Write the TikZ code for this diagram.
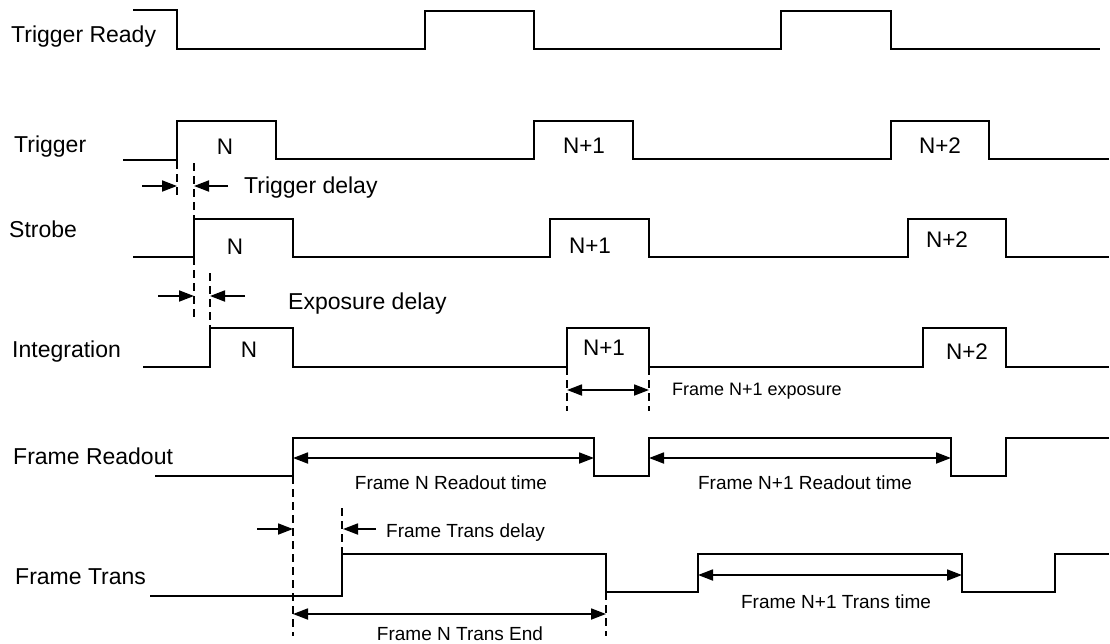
\documentclass[tikz,border=0pt]{standalone}
\usepackage{fontspec}
\setmainfont{Liberation Sans}
\usetikzlibrary{arrows.meta}
\begin{document}
\begin{tikzpicture}[x=1pt,y=-1pt,
  sig/.style={line width=2pt, line join=miter},
  dsh/.style={line width=1.7pt, dash pattern=on 8pt off 5pt},
  meas/.style={line width=1.8pt},
  tip/.style={-{Triangle[length=15pt,width=11pt]}},
  dtip/.style={{Triangle[length=15pt,width=11pt]}-{Triangle[length=15pt,width=11pt]}},
  big/.style={inner sep=0pt, font=\fontsize{23}{27}\selectfont},
  small/.style={inner sep=0pt, font=\fontsize{19}{23}\selectfont},
  pulse/.style={inner sep=0pt, anchor=center, font=\fontsize{22.5}{26}\selectfont}]
\useasboundingbox (0,0) rectangle (1110,643);

% ---- signal names
\node[big, anchor=base west] (lTR) at (11,42) {Trigger Ready};
\node[big, anchor=base west] (lTG) at (14,152) {Trigger};
\node[big, anchor=base west] (lST) at (9,237) {Strobe};
\node[big, anchor=base west] (lIN) at (12,357) {Integration};
\node[big, anchor=base west] (lFR) at (13,464) {Frame Readout};
\node[big, anchor=base west] (lFT) at (15,584) {Frame Trans};

% ---- waveforms
\draw[sig] (133,10) -- (177,10) -- (177,49) -- (425,49) -- (425,11) -- (534,11) -- (534,49)
  -- (781,49) -- (781,11) -- (891,11) -- (891,49) -- (1100,49);
\draw[sig] (123,160) -- (177,160) -- (177,121) -- (276,121) -- (276,159) -- (534,159) -- (534,121)
  -- (633,121) -- (633,159) -- (891,159) -- (891,121) -- (989,121) -- (989,159) -- (1109,159);
\draw[sig] (133,257) -- (194,257) -- (194,219) -- (293,219) -- (293,257) -- (550,257) -- (550,219)
  -- (649,219) -- (649,257) -- (908,257) -- (908,219) -- (1006,219) -- (1006,257) -- (1109,257);
\draw[sig] (143,367) -- (210,367) -- (210,328) -- (293,328) -- (293,367) -- (567,367) -- (567,328)
  -- (649,328) -- (649,367) -- (923,367) -- (923,328) -- (1006,328) -- (1006,367) -- (1109,367);
\draw[sig] (155,476) -- (293,476) -- (293,438) -- (594,438) -- (594,476) -- (649,476) -- (649,438)
  -- (951,438) -- (951,476) -- (1006,476) -- (1006,438) -- (1109,438);
\draw[sig] (150,596) -- (342,596) -- (342,554) -- (606,554) -- (606,592) -- (698,592) -- (698,554)
  -- (962,554) -- (962,592) -- (1055,592) -- (1055,554) -- (1109,554);

% ---- pulse labels
\node[pulse] (tN)  at (225,147) {N};
\node[pulse] (tN1) at (584,146) {N+1};
\node[pulse] (tN2) at (940,146) {N+2};
\node[pulse] (sN)  at (235,247) {N};
\node[pulse] (sN1) at (590,246) {N+1};
\node[pulse] (sN2) at (947,240) {N+2};
\node[pulse] (iN)  at (249,350) {N};
\node[pulse] (iN1) at (604,348) {N+1};
\node[pulse] (iN2) at (967,352) {N+2};

% ---- named coordinates for measurement marks
\coordinate (a1) at (177,161); \coordinate (a2) at (177,198);
\coordinate (b1) at (194,163); \coordinate (b2) at (194,219);
\coordinate (b3) at (194,257); \coordinate (b4) at (194,318);
\coordinate (c1) at (210,273); \coordinate (c2) at (210,328);
\coordinate (e1) at (567,367); \coordinate (e2) at (567,411);
\coordinate (f1) at (649,367); \coordinate (f2) at (649,411);
\coordinate (g1) at (293,476); \coordinate (g2) at (293,636);
\coordinate (h1) at (342,508); \coordinate (h2) at (342,554);
\coordinate (k1) at (606,592); \coordinate (k2) at (606,636);

\draw[dsh] (a1) -- (a2);
\draw[dsh] (b1) -- (b2);
\draw[dsh] (b3) -- (b4);
\draw[dsh] (c1) -- (c2);
\draw[dsh] (e1) -- (e2);
\draw[dsh] (f1) -- (f2);
\draw[dsh] (g1) -- (g2);
\draw[dsh] (h1) -- (h2);
\draw[dsh] (k1) -- (k2);

% Trigger delay
\coordinate (td0) at (142,186); \coordinate (td1) at (177,186);
\coordinate (td2) at (194,186); \coordinate (td3) at (228,186);
\draw[meas,tip] (td0) -- (td1);
\draw[meas,tip] (td3) -- (td2);
\node[big, anchor=base west] (ltd) at (244,193) {Trigger delay};

% Exposure delay
\coordinate (ed0) at (158,296); \coordinate (ed1) at (194,296);
\coordinate (ed2) at (210,296); \coordinate (ed3) at (245,296);
\draw[meas,tip] (ed0) -- (ed1);
\draw[meas,tip] (ed3) -- (ed2);
\node[big, anchor=base west] (led) at (288,309) {Exposure delay};

% Frame N+1 exposure
\coordinate (x1) at (567,390); \coordinate (x2) at (649,390);
\draw[meas,dtip] (x1) -- (x2);
\node[inner sep=0pt, anchor=base west, font=\fontsize{18}{22}\selectfont] (lex) at (672,395) {Frame N+1 exposure};

% Readout times
\coordinate (r1) at (293,458); \coordinate (r2) at (594,458);
\coordinate (r3) at (649,458); \coordinate (r4) at (951,458);
\draw[meas,dtip] (r1) -- (r2);
\draw[meas,dtip] (r3) -- (r4);
\node[small, anchor=base] (lr1) at (451,489) {Frame N Readout time};
\node[small, anchor=base] (lr2) at (805,489) {Frame N+1 Readout time};

% Frame Trans delay
\coordinate (fd0) at (257,529); \coordinate (fd1) at (293,529);
\coordinate (fd2) at (343,529); \coordinate (fd3) at (376,529);
\draw[meas,tip] (fd0) -- (fd1);
\draw[meas,tip] (fd3) -- (fd2);
\node[small, anchor=base west] (lfd) at (386,537) {Frame Trans delay};

% Frame N Trans End
\coordinate (te1) at (293,614); \coordinate (te2) at (606,614);
\draw[meas,dtip] (te1) -- (te2);
\node[small, anchor=base] (lte) at (460,640) {Frame N Trans End};

% Frame N+1 Trans time
\coordinate (tt1) at (698,575); \coordinate (tt2) at (962,575);
\draw[meas,dtip] (tt1) -- (tt2);
\node[small, anchor=base] (ltt) at (836,608) {Frame N+1 Trans time};
\end{tikzpicture}
\end{document}
